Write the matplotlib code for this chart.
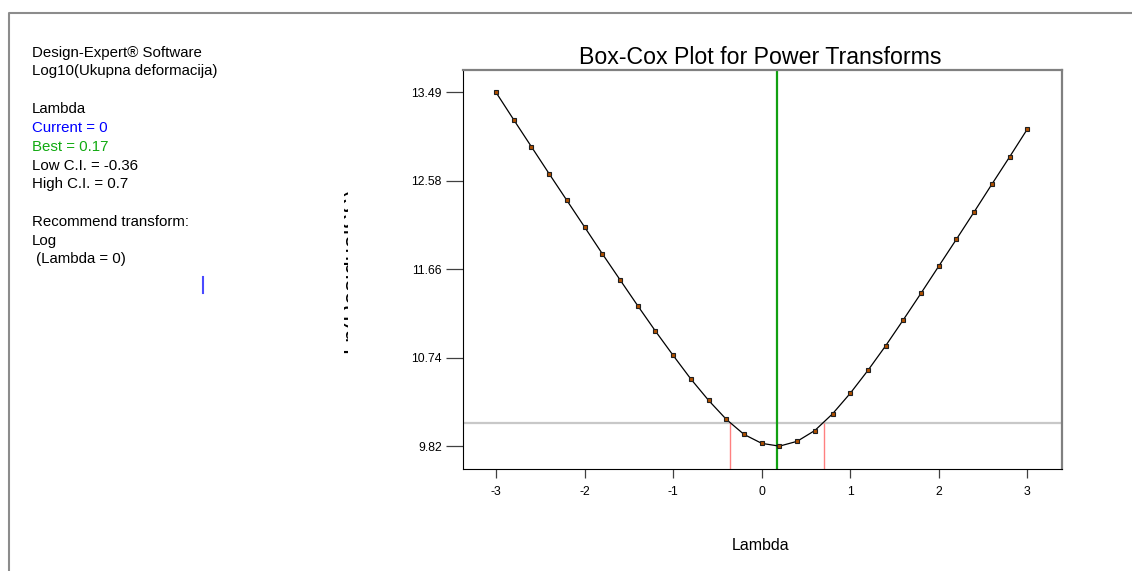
import numpy as np
import matplotlib.pyplot as plt
from matplotlib.lines import Line2D
from matplotlib.transforms import Bbox

plt.rcParams['font.family'] = ['Liberation Sans', 'DejaVu Sans']

# Box-Cox values
lambdas = [-3.0, -2.8, -2.6, -2.4, -2.2, -2.0, -1.8, -1.6, -1.4, -1.2, -1.0,
           -0.8, -0.6, -0.4, -0.2, 0.0, 0.2, 0.4, 0.6, 0.8, 1.0,
           1.2, 1.4, 1.6, 1.8, 2.0, 2.2, 2.4, 2.6, 2.8, 3.0]
ln_resid = [13.492, 13.208, 12.928, 12.648, 12.372, 12.096, 11.819, 11.549, 11.280, 11.017, 10.765,
            10.520, 10.299, 10.102, 9.946, 9.853, 9.824, 9.874, 9.986, 10.159, 10.372,
            10.610, 10.865, 11.135, 11.411, 11.691, 11.971, 12.254, 12.541, 12.824, 13.112]

best_lambda = 0.17
low_ci = -0.36
high_ci = 0.7
ci_level = 10.064

x_ticks = [-3, -2, -1, 0, 1, 2, 3]
y_tick_labels = ["9.82", "10.74", "11.66", "12.58", "13.49"]

info_lines = [
    ("Design-Expert® Software", "black"),
    ("Log10(Ukupna deformacija)", "black"),
    ("", "black"),
    ("Lambda", "black"),
    ("Current = 0", "#0000ff"),
    ("Best = 0.17", "#11aa11"),
    ("Low C.I. = -0.36", "black"),
    ("High C.I. = 0.7", "black"),
    ("", "black"),
    ("Recommend transform:", "black"),
    ("Log", "black"),
    (" (Lambda = 0)", "black"),
]

W, H = 1132, 571
fig = plt.figure(figsize=(W / 100, H / 100), dpi=100)
fig.patch.set_facecolor('white')

ax = fig.add_axes([462.7 / W, 1 - 469 / H, (1062.3 - 462.7) / W, (469 - 70) / H])

# reference lines
ax.axhline(ci_level, color='#c8c8c8', lw=1.6, zorder=1)
ax.axvline(best_lambda, color='#11a011', lw=1.6, zorder=2)
ax.vlines([low_ci, high_ci], 9.587, ci_level, color='#ff8080', lw=1.0, zorder=2)

# curve
ax.plot(lambdas, ln_resid, color='black', lw=0.9, zorder=3)
ax.plot(lambdas, ln_resid, ls='none', marker='s', ms=3.0, mfc='#b05000',
        mec='#202020', mew=0.8, zorder=4)

ax.set_xlim(-3.377, 3.395)
ax.set_ylim(9.587, 13.725)
ax.set_xticks(x_ticks)
ax.set_xticklabels([str(v) for v in x_ticks])
ax.set_yticks(np.linspace(min(ln_resid), max(ln_resid), 5))
ax.set_yticklabels(y_tick_labels)

for side in ['top', 'right']:
    ax.spines[side].set_color('#808080')
    ax.spines[side].set_linewidth(1.6)
for side in ['left', 'bottom']:
    ax.spines[side].set_color('black')
    ax.spines[side].set_linewidth(0.8)

ax.tick_params(axis='y', length=12.5, width=0.9, color='#404040', pad=2.5, labelsize=8.8)
ax.tick_params(axis='x', length=6.5, width=0.9, color='#404040', pad=6, labelsize=8.8)

# title and axis label
fig.text(760 / W, 1 - 58 / H, "Box-Cox Plot for Power Transforms",
         ha='center', va='center', fontsize=16.7)
fig.text(761 / W, 1 - 546 / H, "Lambda", ha='center', va='center', fontsize=11.5)

# clipped y label fragment (only a thin sliver shows in the original)
ylab = fig.text(352 / W, 1 - 270 / H, "Ln(ResidualSS)", rotation=90,
                ha='center', va='center', fontsize=17)
ylab.set_clip_box(Bbox([[344, H - 357], [347.5, H - 182]]))
ylab.set_clip_on(True)

# info panel
y0 = 52.7
step = 18.8
for i, (txt, col) in enumerate(info_lines):
    if txt:
        fig.text(32 / W, 1 - (y0 + i * step) / H, txt, color=col,
                 ha='left', va='center', fontsize=10.8)

# little blue mark
fig.add_artist(Line2D([202.5 / W, 202.5 / W], [1 - 277 / H, 1 - 293 / H],
                      color='#4a4aff', lw=1.5, transform=fig.transFigure))

# window frame
fig.add_artist(Line2D([8.5 / W, 8.5 / W, 1], [0, 1 - 12.5 / H, 1 - 12.5 / H],
                      color='#8c8c8c', lw=1.5, transform=fig.transFigure))

fig.savefig("out.png", dpi=100)
